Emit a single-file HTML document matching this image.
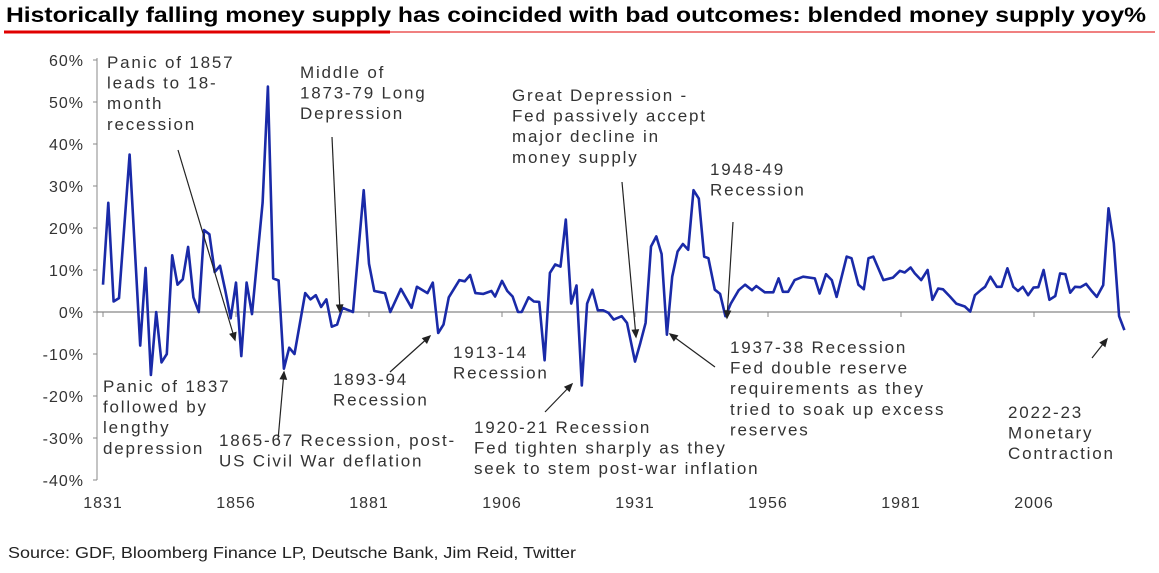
<!DOCTYPE html>
<html><head><meta charset="utf-8"><style>
body{margin:0;background:#fff;width:1159px;height:568px;overflow:hidden;font-family:"Liberation Sans",Arial,sans-serif}
</style></head><body>
<svg width="1159" height="568" xmlns="http://www.w3.org/2000/svg">
<text x="6" y="22" font-size="21" font-weight="bold" fill="#000" textLength="1140" lengthAdjust="spacingAndGlyphs">Historically falling money supply has coincided with bad outcomes: blended money supply yoy%</text>
<line x1="4" y1="32" x2="390" y2="32" stroke="#e00000" stroke-width="3"/>
<line x1="390" y1="32" x2="1155" y2="32" stroke="#e00000" stroke-width="1"/>
<g id="axes" font-size="16" fill="#333" letter-spacing="1"></g>
<polyline id="line" fill="none" stroke="#1a2aa8" stroke-width="2.6" stroke-linejoin="round"/>
<g id="notes" font-size="17" fill="#333" letter-spacing="1.8"></g>
<g stroke="#222" stroke-width="1.2" fill="#222" id="arrows"></g>
<text x="8" y="558" font-size="16" fill="#222" textLength="568" lengthAdjust="spacingAndGlyphs">Source: GDF, Bloomberg Finance LP, Deutsche Bank, Jim Reid, Twitter</text>
</svg>
<script>
const years=[1831,1832,1833,1834,1836,1838,1839,1840,1841,1842,1843,1844,1845,1846,1847,1848,1849,1850,1851,1852,1853,1854,1855,1856,1857,1858,1859,1861,1862,1863,1864,1865,1866,1867,1869,1870,1871,1872,1873,1874,1875,1876,1878,1880,1881,1882,1884,1885,1887,1889,1890,1892,1893,1894,1895,1896,1898,1899,1900,1901,1902.5,1904,1904.7,1906,1907,1908,1909,1909.7,1911,1912,1913,1914,1915,1916,1917,1918,1919,1920,1921,1922,1923,1924,1925,1926,1927,1928.5,1929.5,1931,1932,1933,1934,1935,1936,1937,1938,1939,1940,1941,1942,1943,1944,1944.8,1946,1947,1948,1949,1950.5,1951.7,1953,1953.8,1955.4,1957,1958,1958.8,1959.8,1961,1962.6,1964.8,1965.7,1966.9,1968,1968.9,1970.8,1971.7,1973,1974,1974.9,1975.8,1977.7,1979.5,1980.8,1981.7,1982.8,1983.6,1984.8,1986,1986.9,1988,1988.9,1990.2,1991.4,1993,1994,1994.9,1996.1,1996.8,1997.8,1999,1999.9,2001,2002.1,2003,2003.9,2004.9,2005.9,2006.8,2007.8,2008.9,2010,2010.9,2011.9,2012.8,2013.7,2014.7,2015.8,2016.9,2017.8,2019,2020,2021,2022,2023];
const values=[6.5,26,2.5,3.3,37.5,-8,10.5,-15,0,-12,-10,13.5,6.5,7.8,15.5,3.5,0,19.5,18.5,9.5,11,5,-1.5,7,-10.5,7,-0.5,26,53.7,8,7.5,-13.5,-8.5,-10,4.5,3,4,1.2,3,-3.5,-3,1,0,29,11.5,5,4.5,0,5.5,1,6,4.5,7,-5,-3,3.5,7.6,7.3,8.8,4.5,4.3,5,3.7,7.4,5,3.7,0,0,3.5,2.5,2.4,-11.5,9.3,11.3,10.8,22,2,6.3,-17.5,2,5.3,0.4,0.4,-0.2,-1.8,-1,-2.6,-11.8,-7.4,-2.6,15.6,18,13.8,-5.4,8.4,14.4,16.2,14.8,29,27,13.2,12.8,5.3,4.3,-1,2,5.2,6.5,5.2,6.2,4.7,4.7,8,4.8,4.8,7.6,8.4,8,4.4,9,7.6,3.6,13.2,12.8,6.5,5.4,12.8,13.2,7.6,8.2,9.8,9.4,10.6,9.2,7.6,10,2.9,5.6,5.4,3.7,2,1.3,0.1,4,5.3,6,8.4,6,6,10.4,6,5,6,4,5.8,5.9,10,2.9,3.8,9.2,9,4.6,6,5.9,6.7,4.9,3.6,6.4,24.7,16.4,-1,-4.3];
const yTicks=[60,50,40,30,20,10,0,-10,-20,-30,-40];
const xTicks=[1831,1856,1881,1906,1931,1956,1981,2006];
const X=y=>103+(y-1831)*5.32, Y=v=>312-v*4.2;
const ns='http://www.w3.org/2000/svg';
function mk(t,a,p){const e=document.createElementNS(ns,t);for(const k in a)e.setAttribute(k,a[k]);p.appendChild(e);return e;}
const ax=document.getElementById('axes');
let l=mk('line',{x1:97,y1:Y(60)-2,x2:97,y2:Y(-40),stroke:'#888','stroke-width':1},ax);


l=mk('line',{x1:97,y1:Y(0),x2:1130,y2:Y(0),stroke:'#888','stroke-width':1.2},ax);


yTicks.forEach(v=>{mk('line',{x1:93,y1:Y(v),x2:97,y2:Y(v),stroke:'#888'},ax);
 const t=mk('text',{x:84,y:Y(v)+6,'text-anchor':'end'},ax);t.textContent=v+'%';
 
 });
xTicks.forEach(v=>{mk('line',{x1:X(v),y1:Y(0),x2:X(v),y2:Y(0)+5,stroke:'#888'},ax);
 const t=mk('text',{x:X(v),y:508,'text-anchor':'middle'},ax);t.textContent=v;
 
 });
document.getElementById('line').setAttribute('points',years.map((y,i)=>X(y).toFixed(1)+','+Y(values[i]).toFixed(1)).join(' '));
const notes=[[107,68,['Panic of 1857','leads to 18-','month','recession']],[300,78,['Middle of','1873-79 Long','Depression']],[512,101,['Great Depression -','Fed passively accept','major decline in','money supply']],[710,175,['1948-49','Recession']],[730,353,['1937-38 Recession','Fed double reserve','requirements as they','tried to soak up excess','reserves']],[1008,418,['2022-23','Monetary','Contraction']],[453,358,['1913-14','Recession']],[333,385,['1893-94','Recession']],[474,433,['1920-21 Recession','Fed tighten sharply as they','seek to stem post-war inflation']],[219,446,['1865-67 Recession, post-','US Civil War deflation']],[103,392,['Panic of 1837','followed by','lengthy','depression']]];
const ng=document.getElementById('notes');
notes.forEach(n=>{const t=mk('text',{x:n[0],y:n[1]},ng);
 
 
 n[2].forEach((s,i)=>{const ts=mk('tspan',{x:n[0],dy:i?20.6:0},t);ts.textContent=s;});});
const arr=[[178,150,235,340],[332,137,340,312],[622,182,636,337],[733,222,727,318],[715,367,670,334],[1092,358,1107,339],[390,372,430,336],[545,412,572,384],[278,440,284,372]];
const ag=document.getElementById('arrows');
arr.forEach(a=>{mk('line',{x1:a[0],y1:a[1],x2:a[2],y2:a[3]},ag);
 const ang=Math.atan2(a[3]-a[1],a[2]-a[0]),L=7,W=3;
 const bx=a[2]-L*Math.cos(ang),by=a[3]-L*Math.sin(ang);
 mk('polygon',{points:`${a[2]},${a[3]} ${bx-W*Math.sin(ang)},${by+W*Math.cos(ang)} ${bx+W*Math.sin(ang)},${by-W*Math.cos(ang)}`},ag);});
</script>
</body></html>
